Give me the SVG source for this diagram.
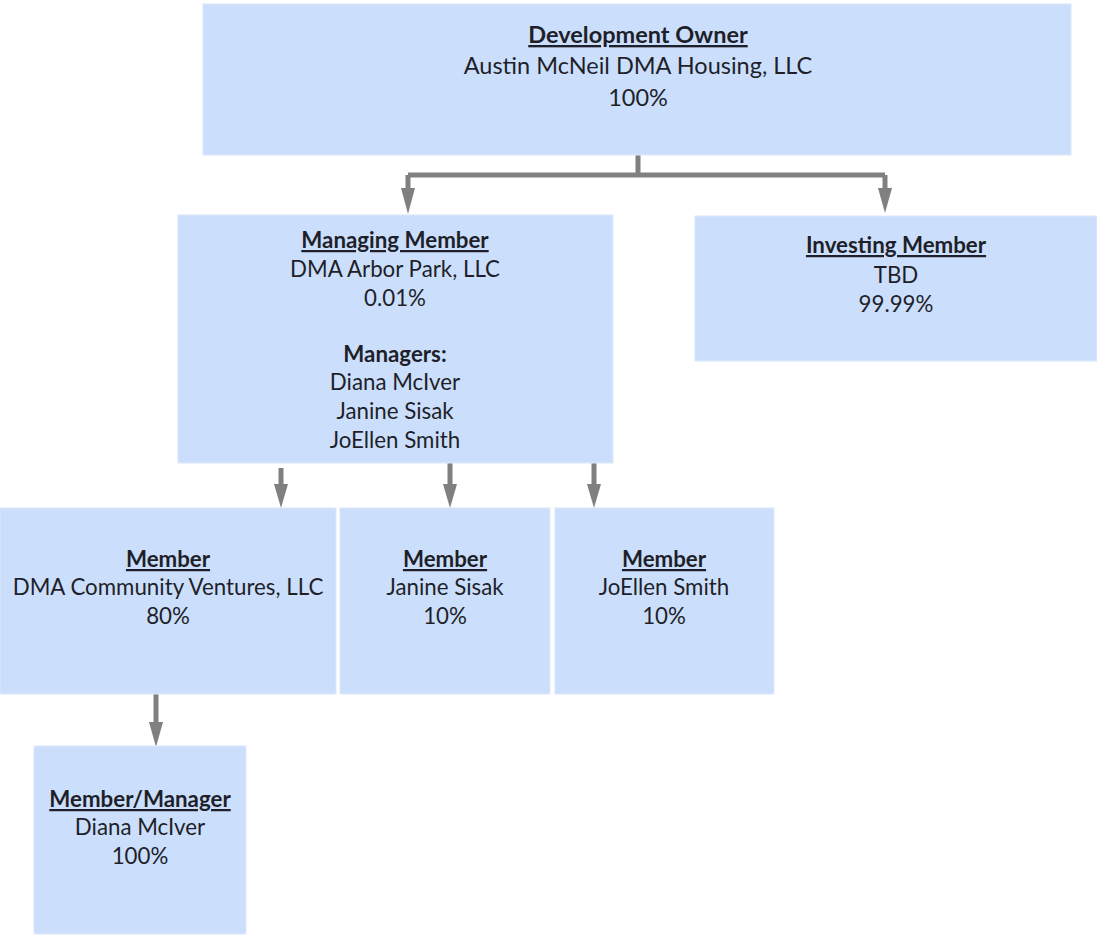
<svg xmlns="http://www.w3.org/2000/svg" width="1097" height="937" viewBox="0 0 1097 937">
  <style>
    .box { fill: #cbdffc; stroke: #dbe8fb; stroke-width: 1; }
    .t { font-family: Lato, "Liberation Sans", Arial, sans-serif; font-size: 22.3px; fill: #1f1f2a; text-anchor: middle; }
    .big { font-size: 23.5px; }
    .h { font-weight: bold; text-decoration: underline; }
    .link { fill: none; stroke: #808080; stroke-width: 5; }
    .head { fill: #808080; }
  </style>
  <rect width="1097" height="937" fill="#ffffff"/>

  <g id="connectors">
    <path class="link" d="M638,155 V175"/>
    <path class="link" d="M408,175 H885"/>
    <path class="link" d="M408,175 V199"/>
    <polygon class="head" points="401,188 415,188 408,214"/>
    <path class="link" d="M885,175 V199"/>
    <polygon class="head" points="878,188 892,188 885,213"/>
    <path class="link" d="M281,468 V495"/>
    <polygon class="head" points="274,484 288,484 281,508"/>
    <path class="link" d="M450,463 V495"/>
    <polygon class="head" points="443,484 457,484 450,508"/>
    <path class="link" d="M594,463 V495"/>
    <polygon class="head" points="587,484 601,484 594,508"/>
    <path class="link" d="M156,694 V732"/>
    <polygon class="head" points="149,722 163,722 156,747"/>
  </g>

  <g id="development-owner">
    <rect class="box" x="203" y="4" width="868" height="151"/>
    <text class="t big h" x="638" y="43">Development Owner</text>
    <text class="t big" x="638" y="74">Austin McNeil DMA Housing, LLC</text>
    <text class="t big" x="638" y="106">100%</text>
  </g>

  <g id="managing-member">
    <rect class="box" x="178" y="215" width="435" height="248"/>
    <text class="t h" x="395" y="248">Managing Member</text>
    <text class="t" x="395" y="277">DMA Arbor Park, LLC</text>
    <text class="t" x="395" y="306">0.01%</text>
    <text class="t" x="395" y="362" font-weight="bold">Managers:</text>
    <text class="t" x="395" y="390">Diana McIver</text>
    <text class="t" x="395" y="419">Janine Sisak</text>
    <text class="t" x="395" y="448">JoEllen Smith</text>
  </g>

  <g id="investing-member">
    <rect class="box" x="695" y="216" width="402" height="145"/>
    <text class="t h" x="896" y="253">Investing Member</text>
    <text class="t" x="896" y="283">TBD</text>
    <text class="t" x="896" y="312">99.99%</text>
  </g>

  <g id="member-dma-community">
    <rect class="box" x="0" y="508" width="336" height="186"/>
    <text class="t h" x="168" y="567">Member</text>
    <text class="t" x="168" y="595">DMA Community Ventures, LLC</text>
    <text class="t" x="168" y="624">80%</text>
  </g>

  <g id="member-janine">
    <rect class="box" x="340" y="508" width="210" height="186"/>
    <text class="t h" x="445" y="567">Member</text>
    <text class="t" x="445" y="595">Janine Sisak</text>
    <text class="t" x="445" y="624">10%</text>
  </g>

  <g id="member-joellen">
    <rect class="box" x="555" y="508" width="219" height="186"/>
    <text class="t h" x="664" y="567">Member</text>
    <text class="t" x="664" y="595">JoEllen Smith</text>
    <text class="t" x="664" y="624">10%</text>
  </g>

  <g id="member-manager">
    <rect class="box" x="34" y="746" width="212" height="188"/>
    <text class="t h" x="140" y="807">Member/Manager</text>
    <text class="t" x="140" y="835">Diana McIver</text>
    <text class="t" x="140" y="864">100%</text>
  </g>
</svg>
